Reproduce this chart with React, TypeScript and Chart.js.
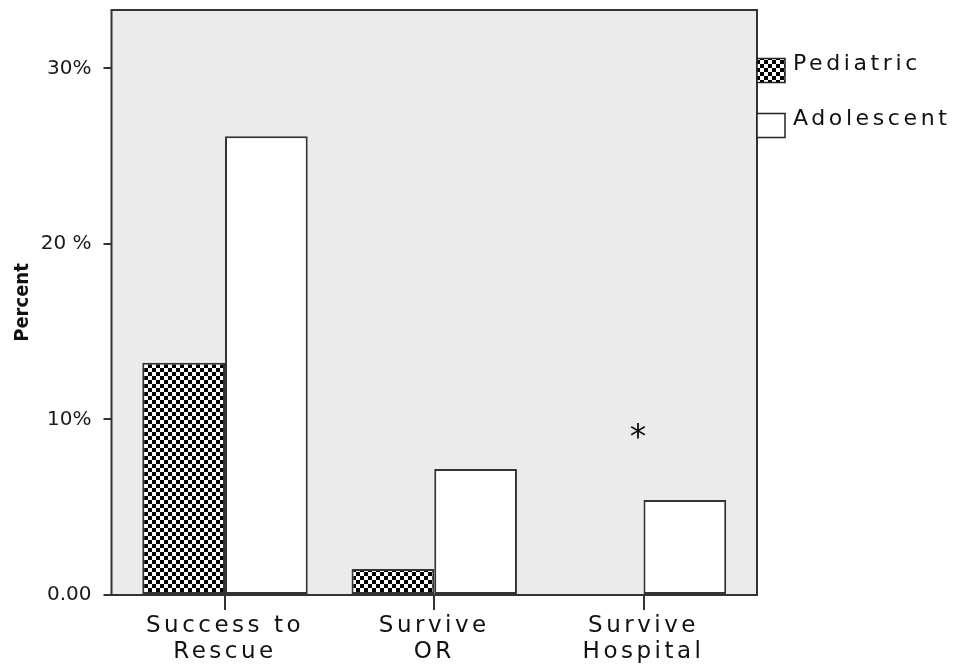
import { useEffect, useRef } from "react";
import { Chart, registerables } from "chart.js";

Chart.register(...registerables);

// ---- data ----
const categories = ["Success to\nRescue", "Survive\nOR", "Survive\nHospital"];
const seriesNames = ["Pediatric", "Adolescent"];
const pediatric = [13.23, 1.48, 0];
const adolescent = [26.14, 7.18, 5.41];
const yTickValues = [0, 10, 20, 30];
const yTickLabels = ["0.00", "10%", "20 %", "30%"];
const yMax = 33.33;
const yTitle = "Percent";
const annotationText = "*";
const annotationCategory = 1.974;
const annotationValue = 9.44;

const FONT = "'DejaVu Sans', sans-serif";

function makeChecker(ctx: CanvasRenderingContext2D): CanvasPattern | string {
  const c = document.createElement("canvas");
  c.width = 8;
  c.height = 8;
  const g = c.getContext("2d");
  if (!g) return "#000";
  g.fillStyle = "#ffffff";
  g.fillRect(0, 0, 8, 8);
  g.fillStyle = "#000000";
  g.fillRect(0, 0, 4, 4);
  g.fillRect(4, 4, 4, 4);
  return ctx.createPattern(c, "repeat") || "#000";
}

export default function App() {
  const ref = useRef<HTMLCanvasElement | null>(null);

  useEffect(() => {
    const canvas = ref.current;
    if (!canvas) return;
    const ctx = canvas.getContext("2d")!;
    const checker = makeChecker(ctx);
    const fills = [checker, "#ffffff"];

    const framePlugin = {
      id: "frame",
      beforeDraw(chart: any) {
        const { ctx: c, chartArea: a } = chart;
        c.save();
        c.fillStyle = "#ebebeb";
        c.fillRect(a.left, a.top, a.right - a.left, a.bottom - a.top);
        c.restore();
      },
      afterDatasetsDraw(chart: any) {
        const { ctx: c, chartArea: a, scales } = chart;
        c.save();
        c.strokeStyle = "#333333";
        c.lineWidth = 2;
        c.strokeRect(a.left, a.top, a.right - a.left, a.bottom - a.top);
        // annotation
        const fs = 33;
        c.font = `${fs}px ${FONT}`;
        c.fillStyle = "#111111";
        c.textAlign = "center";
        c.textBaseline = "alphabetic";
        const px = scales.x.getPixelForValue(annotationCategory);
        const py = scales.y.getPixelForValue(annotationValue);
        c.fillText(annotationText, px, py + fs * 0.56);
        c.restore();
        (c as any).letterSpacing = "3.5px";
      },
      afterDraw(chart: any) {
        const { ctx: c, chartArea: a } = chart;
        (c as any).letterSpacing = "0px";
        c.save();
        const boxOffsets = [48.5, 103.5];
        const textOffsets = [59.5, 114.5];
        chart.data.datasets.forEach((ds: any, i: number) => {
          const bx = a.right;
          const by = a.top + boxOffsets[i];
          c.fillStyle = ds.backgroundColor;
          c.fillRect(bx, by, 28, 24);
          c.strokeStyle = "#222";
          c.lineWidth = 1.5;
          c.strokeRect(bx, by, 28, 24);
          (c as any).letterSpacing = "3.6px";
          c.font = `22px ${FONT}`;
          c.fillStyle = "#111111";
          c.textAlign = "left";
          c.textBaseline = "alphabetic";
          c.fillText(ds.label, bx + 36, a.top + textOffsets[i]);
          (c as any).letterSpacing = "0px";
        });
        c.restore();
      },
    };

    const chart = new Chart(canvas, {
      type: "bar",
      data: {
        datasets: [
          {
            label: seriesNames[0],
            data: pediatric.map((v, i) => ({ x: i, y: v })),
            backgroundColor: fills[0] as any,
            borderColor: "#333333",
            borderWidth: 2,
            borderSkipped: false,
          },
          {
            label: seriesNames[1],
            data: adolescent.map((v, i) => ({ x: i, y: v })),
            backgroundColor: fills[1],
            borderColor: "#333333",
            borderWidth: 2,
            borderSkipped: false,
          },
        ],
      },
      options: {
        responsive: false,
        animation: false,
        events: [],
        categoryPercentage: 0.7905,
        barPercentage: 1,
        layout: { padding: { top: 2, right: 199, left: 0, bottom: 0 } },
        plugins: {
          legend: { display: false },
          tooltip: { enabled: false },
        },
        scales: {
          x: {
            type: "linear",
            min: -0.5424,
            max: 2.5424,
            offset: false,
            grid: {
              offset: false,
              drawOnChartArea: false,
              drawTicks: true,
              tickLength: 15,
              color: "#333333",
              lineWidth: 2,
            },
            border: { display: false },
            afterBuildTicks: (scale: any) => {
              scale.ticks = categories.map((_, i) => ({ value: i }));
            },
            afterFit: (scale: any) => {
              scale.height = 68;
              scale.paddingLeft = 0;
              scale.paddingRight = 0;
            },
            ticks: {
              z: 1,
              autoSkip: false,
              maxRotation: 0,
              padding: 3,
              color: "#111111",
              font: { family: FONT, size: 23, lineHeight: 26 / 23 },
              callback: (value: any) => {
                const s = categories[Math.round(Number(value))];
                return s ? s.split("\n") : "";
              },
            },
          },
          y: {
            type: "linear",
            min: 0,
            max: yMax,
            grid: {
              drawOnChartArea: false,
              drawTicks: true,
              tickLength: 8,
              color: "#333333",
              lineWidth: 2,
            },
            border: { display: false },
            afterBuildTicks: (scale: any) => {
              scale.ticks = yTickValues.map((v) => ({ value: v }));
            },
            afterFit: (scale: any) => {
              scale.width = 103.5;
              scale.paddingTop = 0;
              scale.paddingBottom = 0;
            },
            title: {
              display: true,
              text: yTitle,
              color: "#111111",
              font: { family: "'DejaVu Sans Condensed', 'DejaVu Sans', sans-serif", size: 20, weight: "bold" },
              padding: { top: 3, bottom: 0 },
            },
            ticks: {
              padding: 12,
              color: "#1a1a1a",
              font: { family: FONT, size: 20 },
              callback: (value: any) => {
                const idx = yTickValues.indexOf(Number(value));
                return idx >= 0 ? yTickLabels[idx] : "";
              },
            },
          },
        },
      } as any,
      plugins: [framePlugin],
    });

    return () => chart.destroy();
  }, []);

  return (
    <canvas
      ref={ref}
      width={948}
      height={655}
      style={{ display: "block", width: 948, height: 655 }}
    />
  );
}
